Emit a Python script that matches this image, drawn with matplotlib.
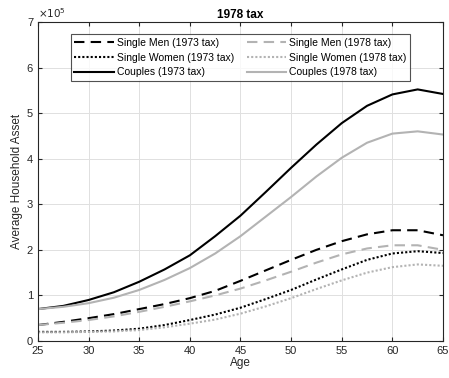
import matplotlib.pyplot as plt
import numpy as np

plt.rcParams['font.family'] = ['Liberation Sans', 'DejaVu Sans']

# ages and average household assets (units of 1e5)
ages = [25, 27.5, 30, 32.5, 35, 37.5, 40, 42.5, 45, 47.5, 50, 52.5, 55, 57.5, 60, 62.5, 65]

men_1973 = [0.35, 0.42, 0.50, 0.59, 0.70, 0.81, 0.94, 1.10, 1.32, 1.55, 1.78, 2.00, 2.19, 2.34, 2.43, 2.43, 2.32]
women_1973 = [0.20, 0.20, 0.21, 0.23, 0.27, 0.35, 0.46, 0.58, 0.73, 0.92, 1.12, 1.35, 1.57, 1.78, 1.92, 1.97, 1.93]
couples_1973 = [0.70, 0.77, 0.90, 1.07, 1.30, 1.57, 1.88, 2.30, 2.75, 3.27, 3.80, 4.31, 4.78, 5.16, 5.41, 5.52, 5.42]

men_1978 = [0.35, 0.40, 0.46, 0.54, 0.64, 0.75, 0.87, 1.00, 1.15, 1.33, 1.52, 1.72, 1.90, 2.03, 2.10, 2.10, 2.00]
women_1978 = [0.19, 0.19, 0.20, 0.21, 0.24, 0.30, 0.38, 0.47, 0.60, 0.76, 0.94, 1.14, 1.33, 1.50, 1.62, 1.68, 1.65]
couples_1978 = [0.70, 0.75, 0.83, 0.95, 1.12, 1.34, 1.60, 1.92, 2.30, 2.73, 3.16, 3.61, 4.02, 4.35, 4.55, 4.60, 4.53]

gray = (0.7, 0.7, 0.7)

fig = plt.figure(figsize=(4.49, 3.78), dpi=100)
ax = fig.add_axes([0.0846, 0.0979, 0.902, 0.844])

# plotted in legend order (matplotlib fills legend columns top to bottom)
ax.plot(ages, men_1973, color='k', lw=1.5, ls=(0, (5, 3)), label='Single Men (1973 tax)')
ax.plot(ages, women_1973, color='k', lw=1.5, ls=(0, (1, 1)), label='Single Women (1973 tax)')
ax.plot(ages, couples_1973, color='k', lw=1.5, label='Couples (1973 tax)')
ax.plot(ages, men_1978, color=gray, lw=1.5, ls=(0, (5, 3)), label='Single Men (1978 tax)')
ax.plot(ages, women_1978, color=gray, lw=1.5, ls=(0, (1, 1)), label='Single Women (1978 tax)')
ax.plot(ages, couples_1978, color=gray, lw=1.5, label='Couples (1978 tax)')

ax.set_xlim(25, 65)
ax.set_ylim(0, 7)
ax.set_xticks(np.arange(25, 66, 5))
ax.set_yticks(np.arange(0, 8, 1))
ax.grid(True, color=(0.88, 0.88, 0.88), lw=0.7)
ax.set_axisbelow(True)
ax.tick_params(direction='in', top=True, right=True, labelsize=8, length=3, color='#262626', labelcolor='#262626')
for s in ax.spines.values():
    s.set_color('#262626')
    s.set_linewidth(0.8)

ax.set_xlabel('Age', fontsize=8.5, color='#262626', labelpad=1)
ax.set_ylabel('Average Household Asset', fontsize=8.5, color='#262626', labelpad=3)
ax.set_title('1978 tax', fontsize=8.5, fontweight='bold', pad=3)
ax.text(0, 1.005, r'$\times 10^5$', transform=ax.transAxes, fontsize=7.5, color='#262626', va='bottom', ha='left')

leg = ax.legend(ncol=2, loc='upper center', bbox_to_anchor=(0.5, 0.978), fontsize=7.5,
                frameon=True, fancybox=False, edgecolor='#262626', handlelength=3.8,
                borderpad=0.35, labelspacing=0.45, columnspacing=1.2, handletextpad=0.3)
leg.get_frame().set_linewidth(0.8)

fig.savefig('out.png', dpi=100)
